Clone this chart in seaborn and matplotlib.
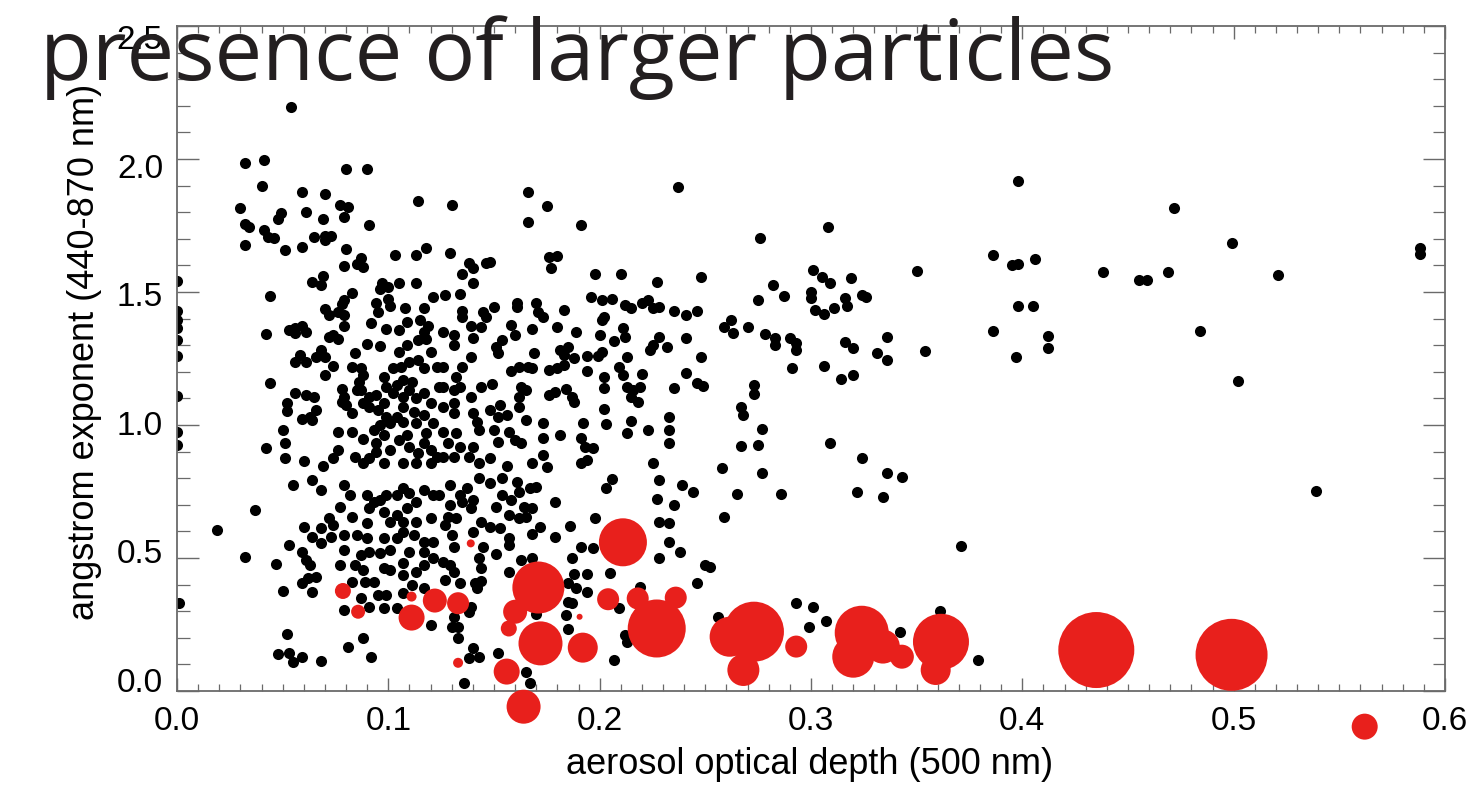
import numpy as np
import pandas as pd
import matplotlib
matplotlib.use("Agg")
import matplotlib.pyplot as plt
import matplotlib.transforms as mtransforms
import seaborn as sns
from matplotlib.ticker import MultipleLocator, FormatStrFormatter

# ---------------- data ----------------
# black points: aerosol optical depth (500 nm) vs angstrom exponent (440-870 nm)
aod_a = [0.054,0.032,0.041,0.080,0.090,0.040,0.114,0.059,0.070,0.030,
         0.077,0.081,0.049,0.048,0.061,0.069,0.079,0.091,0.032,0.034,
         0.041,0.043,0.046,0.065,0.070,0.073,0.070,0.032,0.059,0.051,
         0.080,0.118,0.130,0.166,0.175,0.166,0.191,0.237]
alpha_a = [2.197,1.984,1.998,1.962,1.962,1.898,1.842,1.877,1.867,1.817,
           1.827,1.821,1.796,1.773,1.799,1.773,1.783,1.752,1.754,1.745,
           1.733,1.708,1.704,1.708,1.712,1.712,1.695,1.677,1.670,1.657,
           1.660,1.666,1.826,1.877,1.823,1.762,1.752,1.896]

aod_c = [0.000,0.000,0.000,0.000,0.000,0.000,0.000,0.000,0.000,0.044,
         0.042,0.044,0.042,0.087,0.085,0.088,0.079,0.103,0.113,0.064,
         0.069,0.068,0.097,0.096,0.100,0.105,0.113,0.083,0.079,0.078,
         0.076,0.070,0.072,0.079,0.094,0.100,0.095,0.101,0.108,0.117,
         0.121,0.092,0.099,0.105,0.109,0.115,0.119,0.056,0.059,0.061,
         0.056,0.053,0.074,0.076,0.072,0.079,0.090,0.096,0.117,0.114,
         0.118,0.084,0.105,0.109,0.120,0.056,0.061,0.058,0.066,0.068,
         0.070,0.074,0.070,0.083,0.087,0.088,0.086,0.087,0.098,0.102,
         0.106,0.110,0.114,0.117,0.107,0.111,0.099,0.104,0.123,0.124,
         0.056,0.061,0.065,0.052,0.052,0.078,0.079,0.080,0.083,0.078,
         0.066,0.063,0.059,0.064,0.085,0.091,0.094,0.098,0.091,0.095,
         0.088,0.102,0.107,0.110,0.113,0.117,0.120,0.107,0.112,0.117,
         0.104,0.099,0.101,0.107,0.113,0.121,0.118,0.050,0.051,0.051,
         0.060,0.076,0.083,0.088,0.093,0.096,0.098,0.094,0.094,0.101,
         0.105,0.109,0.110,0.114,0.117,0.120,0.123,0.076,0.074,0.084,
         0.088,0.091,0.098,0.107,0.113,0.120,0.069]
alpha_c = [1.543,1.429,1.395,1.363,1.319,1.259,1.110,0.975,0.925,1.485,
           1.341,1.159,0.912,1.626,1.607,1.595,1.598,1.639,1.639,1.539,
           1.560,1.528,1.533,1.511,1.520,1.535,1.535,1.498,1.470,1.455,
           1.426,1.435,1.414,1.414,1.460,1.473,1.423,1.447,1.441,1.441,
           1.480,1.385,1.360,1.357,1.388,1.395,1.372,1.363,1.372,1.351,
           1.344,1.357,1.338,1.322,1.329,1.372,1.304,1.297,1.351,1.319,
           1.325,1.269,1.275,1.301,1.275,1.238,1.238,1.263,1.257,1.282,
           1.254,1.222,1.188,1.217,1.213,1.188,1.163,1.132,1.182,1.213,
           1.219,1.238,1.244,1.213,1.169,1.163,1.144,1.150,1.219,1.144,
           1.119,1.113,1.106,1.081,1.053,1.137,1.106,1.075,1.044,1.088,
           1.056,1.031,1.021,1.019,1.132,1.106,1.113,1.081,1.069,1.056,
           1.081,1.119,1.106,1.132,1.100,1.119,1.081,1.069,1.050,1.038,
           1.031,1.031,1.006,1.013,1.006,1.006,0.969,0.981,0.931,0.875,
           0.866,0.975,0.975,0.946,0.981,1.000,0.962,0.931,0.900,0.906,
           0.944,0.962,0.919,0.894,0.931,0.906,0.881,0.906,0.875,0.881,
           0.856,0.875,0.856,0.856,0.856,0.856,0.844]

aod_d = [0.129,0.138,0.140,0.135,0.140,0.146,0.148,0.176,0.180,0.177,
         0.198,0.210,0.227,0.248,0.127,0.134,0.161,0.161,0.170,0.171,
         0.173,0.183,0.196,0.201,0.206,0.212,0.215,0.220,0.223,0.225,
         0.228,0.235,0.241,0.246,0.135,0.135,0.145,0.150,0.146,0.139,
         0.144,0.140,0.131,0.126,0.131,0.158,0.160,0.154,0.151,0.152,
         0.168,0.180,0.189,0.200,0.201,0.202,0.211,0.212,0.207,0.228,
         0.225,0.224,0.232,0.241,0.139,0.135,0.126,0.169,0.181,0.185,
         0.183,0.188,0.194,0.199,0.201,0.213,0.248,0.158,0.162,0.166,
         0.168,0.176,0.180,0.183,0.194,0.209,0.211,0.202,0.220,0.241,
         0.246,0.249,0.132,0.131,0.134,0.139,0.144,0.149,0.126,0.163,
         0.162,0.165,0.176,0.179,0.184,0.187,0.188,0.202,0.213,0.216,
         0.219,0.215,0.218,0.235,0.126,0.131,0.131,0.140,0.142,0.148,
         0.153,0.152,0.156,0.162,0.165,0.173,0.192,0.202,0.203,0.215,
         0.223,0.233,0.233,0.233,0.126,0.132,0.128,0.134,0.140,0.143,
         0.150,0.152,0.157,0.160,0.163,0.173,0.181,0.191,0.193,0.197,
         0.213,0.126,0.131,0.138,0.143,0.148,0.156,0.168,0.173,0.175,
         0.191,0.194,0.225]
alpha_d = [1.648,1.610,1.589,1.568,1.535,1.610,1.614,1.633,1.635,1.589,
           1.568,1.568,1.539,1.555,1.489,1.493,1.458,1.442,1.460,1.426,
           1.407,1.432,1.480,1.470,1.473,1.451,1.439,1.458,1.470,1.439,
           1.442,1.430,1.414,1.430,1.430,1.407,1.426,1.442,1.407,1.372,
           1.367,1.326,1.338,1.351,1.301,1.376,1.338,1.320,1.295,1.270,
           1.360,1.370,1.351,1.338,1.395,1.407,1.364,1.330,1.317,1.332,
           1.301,1.282,1.295,1.326,1.257,1.219,1.219,1.270,1.282,1.295,
           1.263,1.251,1.260,1.260,1.276,1.254,1.257,1.204,1.219,1.219,
           1.213,1.207,1.213,1.226,1.204,1.219,1.188,1.182,1.192,1.194,
           1.159,1.147,1.182,1.132,1.144,1.107,1.144,1.154,1.144,1.144,
           1.107,1.132,1.113,1.125,1.134,1.107,1.088,1.138,1.144,1.132,
           1.144,1.107,1.088,1.138,1.069,1.082,1.044,1.044,1.013,1.056,
           1.075,1.031,1.038,1.069,1.019,1.006,1.006,1.059,1.004,1.016,
           0.981,1.031,0.981,0.931,0.975,0.969,0.931,0.919,0.919,0.981,
           0.981,0.937,0.975,0.944,0.931,0.950,0.962,0.950,0.919,0.912,
           0.969,0.881,0.881,0.881,0.856,0.875,0.846,0.856,0.887,0.843,
           0.856,0.869,0.856]

aod_e = [0.001,0.019,0.037,0.032,0.047,0.050,0.052,0.048,0.053,0.055,
         0.059,0.068,0.055,0.064,0.068,0.060,0.068,0.072,0.074,0.073,
         0.053,0.059,0.061,0.063,0.064,0.068,0.059,0.062,0.066,0.064,
         0.079,0.082,0.077,0.083,0.090,0.079,0.085,0.090,0.098,0.079,
         0.087,0.091,0.096,0.101,0.077,0.084,0.088,0.098,0.101,0.083,
         0.089,0.093,0.087,0.091,0.095,0.099,0.098,0.104,0.107,0.111,
         0.117,0.079,0.088,0.081,0.092,0.120,0.090,0.093,0.096,0.099,
         0.104,0.107,0.110,0.091,0.098,0.104,0.109,0.113,0.117,0.121,
         0.101,0.107,0.113,0.120,0.107,0.112,0.117,0.121,0.104,0.110,
         0.117,0.121,0.107,0.117,0.113,0.107]
alpha_e = [0.329,0.605,0.680,0.505,0.476,0.376,0.213,0.138,0.142,0.110,
           0.129,0.113,0.774,0.793,0.756,0.618,0.612,0.649,0.624,0.580,
           0.549,0.524,0.492,0.474,0.580,0.555,0.405,0.424,0.430,0.373,
           0.774,0.737,0.693,0.655,0.630,0.586,0.586,0.574,0.574,0.530,
           0.511,0.524,0.517,0.530,0.474,0.474,0.455,0.461,0.455,0.411,
           0.411,0.411,0.348,0.317,0.361,0.361,0.311,0.311,0.367,0.398,
           0.386,0.305,0.200,0.167,0.129,0.248,0.737,0.712,0.718,0.737,
           0.737,0.762,0.743,0.687,0.674,0.662,0.687,0.712,0.756,0.737,
           0.637,0.637,0.637,0.649,0.599,0.586,0.561,0.561,0.574,0.524,
           0.524,0.499,0.480,0.474,0.449,0.436]

aod_f = [0.206,0.203,0.228,0.227,0.235,0.239,0.244,0.179,0.198,0.228,
         0.233,0.186,0.179,0.168,0.172,0.191,0.197,0.233,0.238,0.228,
         0.187,0.163,0.168,0.157,0.151,0.188,0.194,0.205,0.185,0.189,
         0.194,0.219,0.246,0.250,0.185,0.187,0.184,0.170,0.209,0.185,
         0.212,0.213,0.207,0.165,0.167,0.152,0.136,0.140,0.143,0.138,
         0.133,0.130,0.133,0.131,0.139,0.138,0.141,0.142,0.144,0.134,
         0.144,0.143,0.145,0.129,0.131,0.126,0.127,0.131,0.130,0.127,
         0.132,0.128,0.129,0.135,0.139,0.144,0.140,0.148,0.153,0.157,
         0.157,0.157,0.151,0.154,0.158,0.162,0.167,0.170,0.164,0.162,
         0.165,0.168,0.161,0.154,0.148,0.143,0.137,0.140,0.134,0.129,
         0.124]
alpha_f = [0.797,0.764,0.793,0.722,0.699,0.774,0.747,0.712,0.652,0.637,
           0.630,0.622,0.580,0.589,0.618,0.543,0.536,0.561,0.524,0.499,
           0.499,0.492,0.499,0.446,0.514,0.439,0.439,0.442,0.405,0.388,
           0.373,0.392,0.405,0.474,0.336,0.330,0.286,0.288,0.311,0.233,
           0.211,0.185,0.116,0.073,0.029,0.142,0.029,0.160,0.129,0.123,
           0.242,0.242,0.198,0.279,0.317,0.298,0.405,0.386,0.414,0.405,
           0.461,0.501,0.543,0.474,0.449,0.486,0.417,0.543,0.586,0.624,
           0.649,0.655,0.699,0.712,0.687,0.637,0.599,0.618,0.612,0.574,
           0.549,0.662,0.693,0.737,0.718,0.749,0.762,0.768,0.693,0.649,
           0.655,0.687,0.787,0.800,0.781,0.800,0.762,0.718,0.737,0.774,
           0.737]

aod_g = [0.276,0.308,0.398,0.386,0.395,0.398,0.406,0.350,0.398,0.405,
         0.386,0.412,0.412,0.397,0.354,0.282,0.275,0.287,0.301,0.305,
         0.309,0.319,0.300,0.300,0.302,0.306,0.311,0.316,0.317,0.324,
         0.326,0.262,0.259,0.263,0.270,0.278,0.283,0.283,0.290,0.293,
         0.293,0.316,0.320,0.331,0.336,0.336,0.291,0.306]
alpha_g = [1.702,1.743,1.918,1.639,1.602,1.604,1.624,1.579,1.449,1.449,
           1.354,1.336,1.291,1.257,1.278,1.527,1.470,1.485,1.583,1.555,
           1.533,1.552,1.501,1.479,1.433,1.416,1.441,1.479,1.449,1.489,
           1.483,1.395,1.370,1.345,1.370,1.341,1.326,1.301,1.326,1.307,
           1.282,1.311,1.288,1.270,1.245,1.332,1.213,1.223]

aod_h = [0.314,0.320,0.273,0.273,0.267,0.268,0.277,0.267,0.275,0.258,
         0.277,0.265,0.286,0.259,0.309,0.324,0.336,0.343,0.322,0.334,
         0.371,0.252,0.293,0.301,0.307,0.299,0.256,0.361,0.342,0.379,
         0.472,0.499,0.438,0.455,0.459,0.469,0.521,0.588,0.588,0.484,
         0.502,0.539]
alpha_h = [1.172,1.188,1.151,1.117,1.069,1.038,0.984,0.921,0.925,0.837,
           0.819,0.741,0.741,0.656,0.931,0.875,0.819,0.806,0.747,0.728,
           0.545,0.468,0.332,0.315,0.265,0.242,0.277,0.302,0.223,0.117,
           1.817,1.683,1.574,1.545,1.545,1.574,1.564,1.667,1.642,1.355,
           1.166,0.752]

# red bubbles (larger particles): position and bubble diameter
red_aod = [0.0785,0.0857,0.111,0.111,0.122,0.133,0.139,0.171,0.160,0.157,
           0.172,0.156,0.164,0.133,0.192,0.1905,0.204,0.211,0.227,0.218,
           0.236,0.273,0.2615,0.268,0.293,0.324,0.320,0.334,0.343,0.3615,
           0.359,0.435,0.499,0.562]
red_alpha = [0.376,0.298,0.355,0.276,0.340,0.330,0.555,0.389,0.298,0.235,
             0.179,0.073,-0.059,0.106,0.163,0.279,0.345,0.559,0.235,0.348,
             0.351,0.223,0.204,0.079,0.167,0.219,0.129,0.167,0.129,0.185,
             0.079,0.154,0.136,-0.134]
red_diam = [16,14,10,26,24,22,8,52,24,16,
            44,26,34,10,30,6,22,48,58,22,
            22,60,40,32,22,54,42,34,24,56,
            30,76,72,26]

x_ticks = [0.0, 0.1, 0.2, 0.3, 0.4, 0.5, 0.6]
y_ticks = [0.0, 0.5, 1.0, 1.5, 2.0, 2.5]
title_text = "presence of larger particles"
x_label = "aerosol optical depth (500 nm)"
y_label = "angstrom exponent (440-870 nm)"

# ---------------- figure ----------------
sns.set_theme(style="ticks")
plt.rcParams['font.family'] = ['Liberation Sans', 'DejaVu Sans']

W, H = 1480, 792
fig = plt.figure(figsize=(W / 100, H / 100), dpi=100, facecolor="white")
ax = fig.add_axes([177 / W, 1 - 691 / H, (1445 - 177) / W, (691 - 26) / H])
ax.set_facecolor("white")

black = pd.DataFrame({
    "aod": aod_a + aod_c + aod_d + aod_e + aod_f + aod_g + aod_h,
    "alpha": alpha_a + alpha_c + alpha_d + alpha_e + alpha_f + alpha_g + alpha_h,
})
red = pd.DataFrame({"aod": red_aod, "alpha": red_alpha, "diam": red_diam})

sns.scatterplot(data=black, x="aod", y="alpha", color="black", s=64,
                linewidth=0, ax=ax, zorder=2, legend=False)
sns.scatterplot(data=red, x="aod", y="alpha", color="#e8201c",
                s=(np.asarray(red["diam"], float) * 0.72) ** 2,
                linewidth=0, ax=ax, zorder=3, clip_on=False, legend=False)

ax.set_xlim(0, 0.6)
ax.set_ylim(0, 2.5)
ax.set_xticks(x_ticks)
ax.set_yticks(y_ticks)
ax.xaxis.set_major_formatter(FormatStrFormatter("%.1f"))
ax.yaxis.set_major_formatter(FormatStrFormatter("%.1f"))
ax.xaxis.set_minor_locator(MultipleLocator(0.01))
ax.yaxis.set_minor_locator(MultipleLocator(0.1))

spine_col = "#6a6a6a"
for s in ax.spines.values():
    s.set_visible(True)
    s.set_color(spine_col)
    s.set_linewidth(1.3)

ax.tick_params(axis="x", which="major", direction="in", length=9.5, width=1.0,
               color=spine_col, top=True, bottom=True, labelsize=24, pad=11,
               labelcolor="black")
ax.tick_params(axis="x", which="minor", direction="in", length=5, width=0.9,
               color=spine_col, top=True, bottom=True)
ax.tick_params(axis="y", which="major", direction="in", length=16, width=1.0,
               color=spine_col, left=True, right=True, labelsize=24, pad=10,
               labelcolor="black")
ax.tick_params(axis="y", which="minor", direction="in", length=9, width=0.9,
               color=spine_col, left=True, right=True)

ax.set_xlabel(x_label, fontsize=26, color="black")
ax.set_ylabel(y_label, fontsize=26, color="black")
ax.xaxis.label.set_va("center")
ax.yaxis.label.set_va("center")
ax.xaxis.set_label_coords((810 - 177) / 1268, -(765 - 691) / 665)
ax.yaxis.set_label_coords((85 - 177) / 1268, (691 - 352) / 665)

# y tick labels in the reference sit slightly compressed toward the middle
fig.canvas.draw()
for tick in ax.yaxis.get_major_ticks():
    v = tick.get_loc()
    dy = (1.25 - v) * 8.8 / 72.0  # inches (~px at 100 dpi -> points/72)
    off = mtransforms.ScaledTranslation(0, dy * 72 / 100, fig.dpi_scale_trans)
    tick.label1.set_transform(tick.label1.get_transform() + off)

t = fig.text(40 / W, 1 - 80 / H, title_text, fontsize=50,
             family=['Open Sans', 'DejaVu Sans'], color="#231f20",
             ha="left", va="baseline", zorder=10)
fig.canvas.draw()
w = t.get_window_extent().width
t.set_fontsize(50 * 1075 / w)

fig.savefig("out.png", dpi=100, facecolor="white")
